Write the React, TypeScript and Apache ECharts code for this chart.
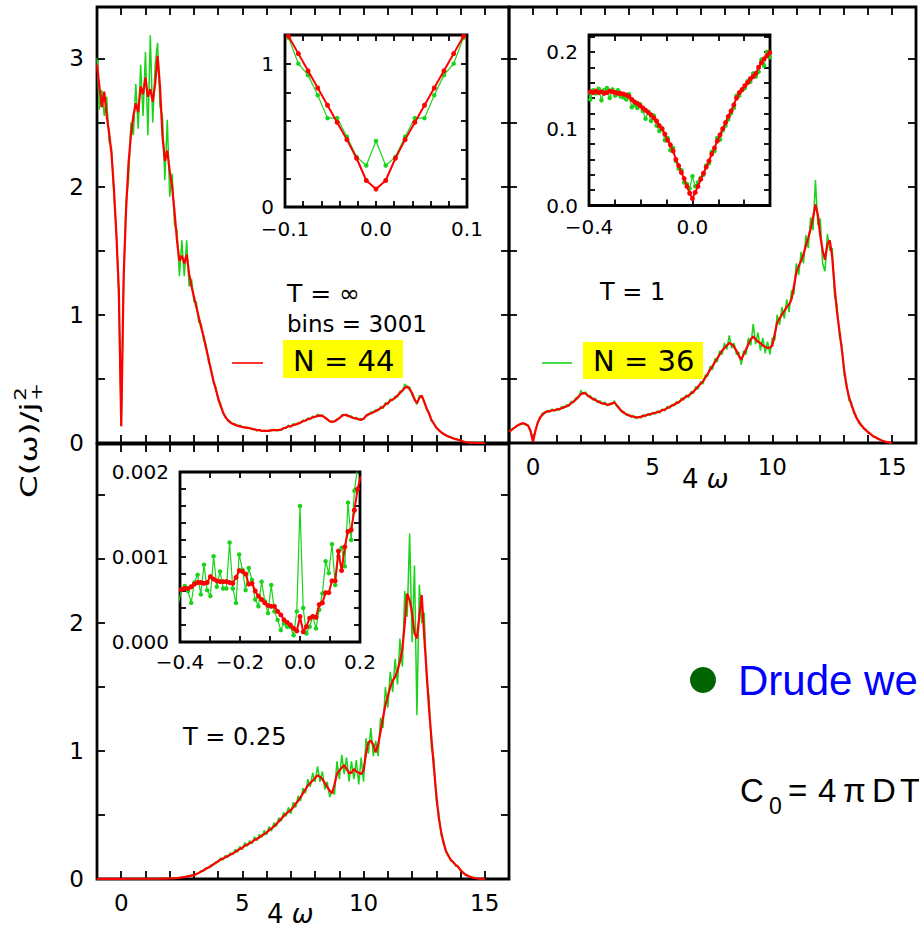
import React, { useEffect, useRef } from "react";
import * as echarts from "echarts";

// Main panels: 4ω sampled from -1 to 15 in steps of 0.1
const OMEGA_START = -1;
const OMEGA_STEP = 0.1;
// width of one of the 3001 histogram bins on the 4ω axis (used by the zoomed insets)
const BIN_WIDTH = 32 / 3000;

// T = ∞, N = 44 (red) and N = 36 (green)
const TINF_N44 = [
  2.95, 2.78, 2.62, 2.74, 2.55, 2.42, 2.25, 1.98, 1.62, 1.2,
  0.13, 1.3, 1.82, 2.18, 2.4, 2.55, 2.65, 2.58, 2.78, 2.72,
  2.85, 2.7, 2.76, 2.66, 2.8, 3.02, 2.78, 2.4, 2.2, 2.28,
  2.12, 2.0, 1.8, 1.58, 1.42, 1.46, 1.4, 1.47, 1.32, 1.22,
  1.14, 1.06, 0.98, 0.9, 0.83, 0.74, 0.66, 0.57, 0.49, 0.42,
  0.35, 0.29, 0.24, 0.2, 0.18, 0.16, 0.15, 0.14, 0.135, 0.13,
  0.125, 0.12, 0.12, 0.115, 0.11, 0.105, 0.1, 0.1, 0.095, 0.095,
  0.095, 0.095, 0.1, 0.1, 0.1, 0.1, 0.105, 0.115, 0.12, 0.13,
  0.13, 0.14, 0.145, 0.15, 0.16, 0.17, 0.175, 0.185, 0.19, 0.2,
  0.205, 0.21, 0.215, 0.21, 0.2, 0.185, 0.17, 0.165, 0.17, 0.18,
  0.195, 0.21, 0.22, 0.215, 0.21, 0.2, 0.195, 0.19, 0.185, 0.18,
  0.19, 0.21, 0.225, 0.23, 0.24, 0.25, 0.26, 0.27, 0.28, 0.3,
  0.31, 0.33, 0.34, 0.35, 0.37, 0.39, 0.41, 0.43, 0.44, 0.42,
  0.39, 0.34, 0.31, 0.35, 0.37, 0.32, 0.27, 0.23, 0.18, 0.15,
  0.12, 0.1, 0.085, 0.07, 0.06, 0.05, 0.045, 0.035, 0.03, 0.025,
  0.02, 0.012, 0.008, 0.005, 0.003, 0.002, 0.001, 0, 0, 0,
  0,
];
const TINF_N36 = [
  3.0, 2.6, 2.75, 2.55, 2.7, 2.35, 2.3, 1.92, 1.66, 1.12,
  0.13, 1.28, 1.88, 2.05, 2.5, 2.4, 2.8, 2.45, 2.95, 2.55,
  3.05, 2.4, 3.18, 2.5, 2.95, 3.12, 2.62, 2.55, 2.05, 2.52,
  1.92, 2.1, 1.7, 1.66, 1.3, 1.58, 1.3, 1.58, 1.22, 1.28,
  1.1, 1.1, 0.94, 0.93, 0.8, 0.77, 0.63, 0.59, 0.47, 0.44,
  0.33, 0.31, 0.23, 0.21, 0.17, 0.17, 0.145, 0.15, 0.13, 0.14,
  0.12, 0.125, 0.115, 0.12, 0.105, 0.11, 0.095, 0.105, 0.09, 0.1,
  0.09, 0.1, 0.095, 0.105, 0.095, 0.105, 0.1, 0.12, 0.115, 0.14,
  0.125, 0.15, 0.14, 0.16, 0.155, 0.18, 0.17, 0.195, 0.185, 0.21,
  0.2, 0.225, 0.21, 0.22, 0.195, 0.19, 0.165, 0.17, 0.165, 0.19,
  0.19, 0.22, 0.215, 0.225, 0.205, 0.21, 0.19, 0.2, 0.18, 0.19,
  0.185, 0.22, 0.215, 0.245, 0.235, 0.26, 0.25, 0.285, 0.27, 0.315,
  0.3, 0.345, 0.33, 0.365, 0.36, 0.405, 0.4, 0.46, 0.43, 0.44,
  0.37, 0.35, 0.3, 0.37, 0.36, 0.33, 0.26, 0.24, 0.17, 0.155,
  0.115, 0.105, 0.08, 0.075, 0.055, 0.055, 0.04, 0.04, 0.028, 0.03,
  0.018, 0.015, 0.007, 0.006, 0.002, 0.003, 0, 0, 0, 0,
  0,
];

// T = 1
const T1_N44 = [
  0.09, 0.1, 0.115, 0.13, 0.14, 0.15, 0.155, 0.146, 0.135, 0.095,
  0.01, 0.092, 0.16, 0.199, 0.22, 0.24, 0.245, 0.25, 0.255, 0.255,
  0.26, 0.265, 0.27, 0.28, 0.285, 0.295, 0.31, 0.325, 0.34, 0.36,
  0.38, 0.39, 0.385, 0.37, 0.355, 0.345, 0.335, 0.325, 0.315, 0.31,
  0.305, 0.3, 0.3, 0.31, 0.315, 0.295, 0.27, 0.25, 0.235, 0.225,
  0.215, 0.21, 0.205, 0.2, 0.2, 0.205, 0.21, 0.215, 0.22, 0.225,
  0.23, 0.235, 0.24, 0.245, 0.255, 0.26, 0.27, 0.28, 0.29, 0.3,
  0.31, 0.32, 0.335, 0.35, 0.36, 0.37, 0.385, 0.4, 0.42, 0.44,
  0.46, 0.48, 0.51, 0.54, 0.57, 0.6, 0.63, 0.66, 0.69, 0.72,
  0.74, 0.76, 0.78, 0.77, 0.75, 0.72, 0.68, 0.65, 0.69, 0.73,
  0.77, 0.81, 0.83, 0.81, 0.79, 0.78, 0.76, 0.75, 0.74, 0.745,
  0.76, 0.85, 0.94, 0.97, 1.0, 1.03, 1.06, 1.08, 1.12, 1.22,
  1.33, 1.38, 1.42, 1.47, 1.54, 1.6, 1.67, 1.76, 1.86, 1.78,
  1.62, 1.5, 1.43, 1.55, 1.58, 1.45, 1.22, 1.02, 0.88, 0.73,
  0.57, 0.44, 0.36, 0.3, 0.25, 0.2, 0.17, 0.14, 0.12, 0.1,
  0.085, 0.07, 0.055, 0.045, 0.035, 0.025, 0.018, 0.012, 0.007, 0.003,
  0,
];
const T1_N36 = [
  0.09, 0.105, 0.12, 0.125, 0.145, 0.145, 0.15, 0.14, 0.137, 0.09,
  0.038, 0.098, 0.155, 0.2, 0.235, 0.23, 0.255, 0.24, 0.265, 0.25,
  0.27, 0.255, 0.285, 0.27, 0.3, 0.285, 0.325, 0.315, 0.355, 0.35,
  0.41, 0.38, 0.4, 0.36, 0.37, 0.335, 0.35, 0.315, 0.33, 0.3,
  0.32, 0.29, 0.31, 0.3, 0.33, 0.285, 0.28, 0.24, 0.245, 0.215,
  0.225, 0.2, 0.215, 0.19, 0.205, 0.195, 0.22, 0.205, 0.23, 0.215,
  0.24, 0.225, 0.25, 0.235, 0.265, 0.25, 0.285, 0.27, 0.3, 0.29,
  0.325, 0.31, 0.35, 0.335, 0.375, 0.355, 0.4, 0.385, 0.44, 0.42,
  0.48, 0.46, 0.53, 0.52, 0.6, 0.57, 0.66, 0.63, 0.72, 0.69,
  0.78, 0.73, 0.84, 0.74, 0.78, 0.69, 0.71, 0.61, 0.72, 0.69,
  0.82, 0.76, 0.93, 0.77, 0.86, 0.72, 0.82, 0.7, 0.79, 0.69,
  0.82, 0.8, 1.0, 0.92, 1.06, 0.97, 1.12, 1.02, 1.19, 1.16,
  1.4, 1.31, 1.49, 1.4, 1.62, 1.52, 1.76, 1.66, 2.05, 1.7,
  1.75, 1.4, 1.34, 1.63, 1.5, 1.52, 1.14, 1.08, 0.83, 0.77,
  0.53, 0.47, 0.33, 0.32, 0.23, 0.215, 0.155, 0.15, 0.11, 0.11,
  0.078, 0.075, 0.05, 0.048, 0.03, 0.028, 0.015, 0.013, 0.005, 0.003,
  0,
];

// T = 0.25
const TQ_N44 = [
  0.0006, 0.0006, 0.0006, 0.0006, 0.0006, 0.0006, 0.0007, 0.0007, 0.0006, 0.0004,
  0.0003, 0.0008, 0.0018, 0.002, 0.002, 0.002, 0.002, 0.002, 0.002, 0.002,
  0.002, 0.002, 0.002, 0.002, 0.002, 0.002, 0.003, 0.003, 0.003, 0.004,
  0.004, 0.005, 0.006, 0.008, 0.01, 0.012, 0.015, 0.018, 0.022, 0.026,
  0.03, 0.038, 0.048, 0.058, 0.068, 0.08, 0.09, 0.1, 0.115, 0.125,
  0.14, 0.15, 0.16, 0.17, 0.18, 0.19, 0.2, 0.21, 0.225, 0.235,
  0.245, 0.26, 0.27, 0.28, 0.29, 0.305, 0.315, 0.325, 0.34, 0.35,
  0.365, 0.38, 0.395, 0.41, 0.43, 0.45, 0.47, 0.49, 0.51, 0.525,
  0.54, 0.56, 0.59, 0.61, 0.64, 0.67, 0.7, 0.73, 0.75, 0.77,
  0.79, 0.81, 0.8, 0.78, 0.75, 0.72, 0.69, 0.67, 0.74, 0.82,
  0.85, 0.87, 0.89, 0.86, 0.83, 0.83, 0.86, 0.84, 0.83, 0.82,
  0.85, 0.98, 1.07, 1.08, 1.05, 0.99, 1.05, 1.15, 1.26, 1.36,
  1.43, 1.5, 1.55, 1.58, 1.63, 1.7, 1.8, 2.0, 2.23, 2.18,
  2.08, 1.92, 1.88, 2.05, 2.22, 1.9, 1.62, 1.33, 1.1, 0.87,
  0.66, 0.48, 0.37, 0.28, 0.22, 0.18, 0.15, 0.13, 0.11, 0.095,
  0.07, 0.05, 0.035, 0.025, 0.018, 0.012, 0.008, 0.004, 0.002, 0.001,
  0,
];
const TQ_N36 = [
  0.0005, 0.0007, 0.0004, 0.0009, 0.0005, 0.0007, 0.0011, 0.0006, 0.001, 0.0003,
  0.0016, 0.0002, 0.002, 0.002, 0.003, 0.002, 0.003, 0.002, 0.003, 0.002,
  0.003, 0.002, 0.003, 0.002, 0.003, 0.002, 0.004, 0.003, 0.004, 0.004,
  0.005, 0.006, 0.005, 0.01, 0.009, 0.014, 0.014, 0.021, 0.02, 0.03,
  0.028, 0.043, 0.045, 0.064, 0.064, 0.088, 0.085, 0.11, 0.108, 0.135,
  0.13, 0.165, 0.15, 0.185, 0.17, 0.205, 0.19, 0.23, 0.21, 0.255,
  0.23, 0.285, 0.255, 0.3, 0.275, 0.33, 0.3, 0.35, 0.325, 0.38,
  0.345, 0.41, 0.375, 0.44, 0.41, 0.48, 0.45, 0.52, 0.49, 0.56,
  0.51, 0.6, 0.56, 0.65, 0.61, 0.71, 0.67, 0.78, 0.72, 0.83,
  0.76, 0.88, 0.76, 0.84, 0.7, 0.76, 0.64, 0.69, 0.66, 0.92,
  0.78, 0.97, 0.82, 0.95, 0.76, 0.92, 0.78, 0.93, 0.74, 0.95,
  0.76, 1.1, 0.98, 1.18, 0.96, 1.08, 0.96, 1.26, 1.18, 1.5,
  1.34, 1.62, 1.46, 1.72, 1.52, 1.88, 1.66, 2.25, 2.05, 2.7,
  1.85, 2.45, 1.28, 2.3, 2.0, 2.08, 1.55, 1.42, 1.02, 0.94,
  0.61, 0.52, 0.34, 0.3, 0.205, 0.19, 0.14, 0.135, 0.1, 0.1,
  0.065, 0.055, 0.03, 0.028, 0.015, 0.013, 0.006, 0.005, 0.001, 0.001,
  0,
];

// Insets: one value per histogram bin, starting at bin index *_FIRST_BIN
const ZOOM_INF_FIRST_BIN = -10;
const ZOOM_INF_N44 = [1.31, 1.19, 1.07, 0.95, 0.83, 0.71, 0.59, 0.47, 0.34, 0.185, 0.125, 0.185, 0.34, 0.47, 0.59, 0.71, 0.83, 0.95, 1.07, 1.19, 1.31];
const ZOOM_INF_N36 = [1.3, 1.18, 1.0, 0.92, 0.78, 0.62, 0.62, 0.49, 0.35, 0.29, 0.46, 0.29, 0.35, 0.49, 0.62, 0.62, 0.78, 0.92, 1.0, 1.18, 1.3];

const ZOOM_T1_FIRST_BIN = -38;
const ZOOM_T1_N44 = [
  0.148,
  0.148, 0.147, 0.149, 0.147, 0.148, 0.146, 0.147, 0.149, 0.148, 0.147,
  0.146, 0.146, 0.145, 0.144, 0.142, 0.138, 0.135, 0.133, 0.13, 0.127,
  0.124, 0.121, 0.118, 0.114, 0.11, 0.104, 0.1, 0.093, 0.085, 0.079,
  0.071, 0.06, 0.052, 0.043, 0.035, 0.025, 0.016, 0.009, 0.017, 0.025,
  0.034, 0.042, 0.05, 0.058, 0.067, 0.075, 0.084, 0.092, 0.1, 0.108,
  0.116, 0.123, 0.131, 0.14, 0.147, 0.151, 0.156, 0.16, 0.165, 0.168,
  0.172, 0.18, 0.186, 0.191, 0.195, 0.199, 0.203,
];
const ZOOM_T1_N36 = [
  0.15,
  0.138, 0.15, 0.146, 0.152, 0.137, 0.15, 0.153, 0.14, 0.151, 0.143,
  0.15, 0.142, 0.141, 0.138, 0.145, 0.128, 0.131, 0.127, 0.132, 0.123,
  0.113, 0.122, 0.11, 0.117, 0.104, 0.097, 0.1, 0.085, 0.088, 0.072,
  0.075, 0.058, 0.048, 0.046, 0.03, 0.028, 0.022, 0.038, 0.025, 0.03,
  0.036, 0.04, 0.052, 0.055, 0.07, 0.071, 0.088, 0.086, 0.098, 0.104,
  0.112, 0.12, 0.127, 0.143, 0.143, 0.15, 0.153, 0.162, 0.161, 0.172,
  0.168, 0.174, 0.19, 0.182, 0.2, 0.193, 0.205,
];

const ZOOM_TQ_FIRST_BIN = -38;
const ZOOM_TQ_N44 = [
  0.0006,
  0.00062, 0.00063, 0.00063, 0.00065, 0.00068, 0.0007, 0.0007, 0.00069, 0.0007, 0.00077,
  0.00074, 0.00072, 0.00071, 0.00071, 0.00071, 0.0007, 0.00069, 0.00076, 0.00084, 0.00083,
  0.0008, 0.00068, 0.00069, 0.0006, 0.00054, 0.0005, 0.00046, 0.00043, 0.00042, 0.00042,
  0.00036, 0.00032, 0.00026, 0.00023, 0.0002, 0.00016, 0.00013, 0.0003, 0.00012, 0.00018,
  0.00028, 0.0003, 0.00029, 0.00044, 0.00046, 0.00058, 0.00058, 0.00072, 0.00072, 0.00107,
  0.00084, 0.00112, 0.0013, 0.00132, 0.00155, 0.0018, 0.00195,
];
const ZOOM_TQ_N36 = [
  0.00045,
  0.00062, 0.00066, 0.0006, 0.00046, 0.0007, 0.00079, 0.00056, 0.00091, 0.00061, 0.00054,
  0.00101, 0.00065, 0.00083, 0.00063, 0.00063, 0.00117, 0.00063, 0.00046, 0.00103, 0.00085,
  0.00061, 0.00087, 0.00073, 0.0005, 0.00042, 0.00071, 0.00048, 0.00034, 0.00067, 0.00036,
  0.00026, 0.00014, 0.00022, 0.00018, 0.00018, 0.00008, 0.00036, 0.0016, 0.0004, 0.0001,
  0.00018, 0.0003, 0.00016, 0.00038, 0.00057, 0.00095, 0.00081, 0.00115, 0.00067, 0.00101,
  0.00111, 0.00089, 0.00164, 0.0012, 0.00178, 0.00205, 0.0022,
];

// Labelled tick positions
const MAIN_X_LABELS = [0, 5, 10, 15];
const TOP_Y_LABELS = [0, 1, 2, 3];
const BOTTOM_Y_LABELS = [0, 1, 2];
const ZOOM_INF_X_LABELS = [-0.1, 0, 0.1];
const ZOOM_INF_Y_LABELS = [0, 1];
const ZOOM_T1_X_LABELS = [-0.4, 0];
const ZOOM_T1_Y_LABELS = [0, 0.1, 0.2];
const ZOOM_TQ_X_LABELS = [-0.4, -0.2, 0, 0.2];
const ZOOM_TQ_Y_LABELS = [0, 0.001, 0.002];

const RED = "#ff0000";
const GREEN = "#19d419";
const FONT = "DejaVu Sans";

function onGrid(start: number, step: number, values: number[]) {
  return values.map((v, i) => [start + i * step, v]);
}

function signed(v: number, digits: number) {
  const s = Math.abs(v).toFixed(digits);
  return v < -1e-12 ? "\u2212" + s : s;
}

function labelsAt(ticks: number[], digits: number, tol: number) {
  return (v: number) => {
    const t = ticks.find((t) => Math.abs(t - v) < tol);
    return t === undefined ? "" : signed(t, digits);
  };
}

type AxisOpts = {
  min: number;
  max: number;
  interval: number;
  labels?: (v: number) => string;
  fontSize?: number;
  margin?: number;
  tickLen: number;
};

// a labelled axis plus a mirrored, unlabelled one so ticks appear on all four sides
function axisPair(dim: "x" | "y", gridIndex: number, o: AxisOpts) {
  const base = {
    type: "value",
    gridIndex,
    min: o.min,
    max: o.max,
    interval: o.interval,
    splitLine: { show: false },
    axisLine: { show: false, onZero: false },
    axisTick: { show: true, inside: true, length: o.tickLen, lineStyle: { color: "#000", width: 1.8 } },
  };
  const main = {
    ...base,
    position: dim === "x" ? "bottom" : "left",
    axisLabel: o.labels
      ? {
          show: true,
          formatter: o.labels,
          color: "#000",
          fontFamily: FONT,
          fontSize: o.fontSize,
          margin: o.margin,
          showMinLabel: true,
          showMaxLabel: true,
        }
      : { show: false },
  };
  const mirror = { ...base, position: dim === "x" ? "top" : "right", axisLabel: { show: false } };
  return [main, mirror];
}

function mainSeries(g: number, red: number[], green: number[]) {
  return [
    {
      type: "line",
      xAxisIndex: 2 * g,
      yAxisIndex: 2 * g,
      data: onGrid(OMEGA_START, OMEGA_STEP, green),
      symbol: "none",
      showSymbol: false,
      lineStyle: { color: GREEN, width: 1.5 },
      itemStyle: { color: GREEN },
      z: 2,
      silent: true,
    },
    {
      type: "line",
      xAxisIndex: 2 * g,
      yAxisIndex: 2 * g,
      data: onGrid(OMEGA_START, OMEGA_STEP, red),
      symbol: "none",
      showSymbol: false,
      lineStyle: { color: RED, width: 2.2 },
      itemStyle: { color: RED },
      z: 3,
      silent: true,
    },
  ];
}

function zoomSeries(g: number, firstBin: number, red: number[], green: number[]) {
  const start = firstBin * BIN_WIDTH;
  return [
    {
      type: "line",
      xAxisIndex: 2 * g,
      yAxisIndex: 2 * g,
      data: onGrid(start, BIN_WIDTH, green),
      symbol: "circle",
      symbolSize: 4.5,
      showSymbol: true,
      showAllSymbol: true,
      lineStyle: { color: GREEN, width: 1.2 },
      itemStyle: { color: GREEN },
      z: 4,
      silent: true,
    },
    {
      type: "line",
      xAxisIndex: 2 * g,
      yAxisIndex: 2 * g,
      data: onGrid(start, BIN_WIDTH, red),
      symbol: "circle",
      symbolSize: 5,
      showSymbol: true,
      showAllSymbol: true,
      lineStyle: { color: RED, width: 2 },
      itemStyle: { color: RED },
      z: 5,
      silent: true,
    },
  ];
}

function label(text: string, x: number, y: number, size: number, extra: any = {}) {
  return {
    type: "text",
    x,
    y,
    silent: true,
    style: {
      text,
      fontSize: size,
      fontFamily: FONT,
      fill: "#000",
      align: "left",
      verticalAlign: "middle",
      textAlign: "left",
      textVerticalAlign: "middle",
      ...extra,
    },
  };
}

function omegaTitle(x: number, y: number) {
  return label("4 {w|ω}", x, y, 26, {
    rich: { w: { fontSize: 26, fontFamily: FONT, fontStyle: "italic", fill: "#000" } },
  });
}

function measure(text: string, font: string) {
  const ctx = document.createElement("canvas").getContext("2d");
  if (!ctx) return text.length * 10;
  ctx.font = font;
  return ctx.measureText(text).width;
}

export default function App() {
  const ref = useRef<HTMLDivElement>(null);

  useEffect(() => {
    if (!ref.current) return;
    const chart = echarts.init(ref.current, undefined, { renderer: "svg" });

    const frame = { show: true, borderColor: "#000", borderWidth: 2.8, backgroundColor: "transparent" };
    const grids = [
      { left: 97, top: 7, width: 412, height: 436, ...frame },
      { left: 509, top: 7, width: 413, height: 436, ...frame },
      { left: 97, top: 444, width: 412, height: 435, ...frame },
      { left: 285, top: 35, width: 182, height: 172, ...frame },
      { left: 589, top: 35, width: 181, height: 170.5, ...frame },
      { left: 180, top: 472, width: 180, height: 170, ...frame },
    ];

    const mainX = (g: number, withLabels: boolean) =>
      axisPair("x", g, {
        min: -1,
        max: 16,
        interval: 1,
        tickLen: 8,
        labels: withLabels ? labelsAt(MAIN_X_LABELS, 0, 1e-6) : undefined,
        fontSize: 23,
        margin: 12,
      });
    const mainY = (g: number, ticks: number[] | null) =>
      axisPair("y", g, {
        min: 0,
        max: 3.4,
        interval: 0.5,
        tickLen: 8,
        labels: ticks ? labelsAt(ticks, 0, 1e-6) : undefined,
        fontSize: 23,
        margin: 13,
      });

    const xAxis = [
      ...mainX(0, false),
      ...mainX(1, true),
      ...mainX(2, true),
      ...axisPair("x", 3, { min: -0.1, max: 0.1, interval: 0.02, tickLen: 6, labels: labelsAt(ZOOM_INF_X_LABELS, 1, 1e-6), fontSize: 20, margin: 12 }),
      ...axisPair("x", 4, { min: -0.4, max: 0.3, interval: 0.1, tickLen: 6, labels: labelsAt(ZOOM_T1_X_LABELS, 1, 1e-6), fontSize: 20, margin: 11 }),
      ...axisPair("x", 5, { min: -0.4, max: 0.2, interval: 0.1, tickLen: 6, labels: labelsAt(ZOOM_TQ_X_LABELS, 1, 1e-6), fontSize: 20, margin: 10 }),
    ];
    const yAxis = [
      ...mainY(0, TOP_Y_LABELS),
      ...mainY(1, null),
      ...mainY(2, BOTTOM_Y_LABELS),
      ...axisPair("y", 3, { min: 0, max: 1.2, interval: 0.2, tickLen: 6, labels: labelsAt(ZOOM_INF_Y_LABELS, 0, 1e-6), fontSize: 20, margin: 11 }),
      ...axisPair("y", 4, { min: 0, max: 0.222, interval: 0.02, tickLen: 6, labels: labelsAt(ZOOM_T1_Y_LABELS, 1, 1e-6), fontSize: 20, margin: 11 }),
      ...axisPair("y", 5, { min: 0, max: 0.002, interval: 0.0002, tickLen: 6, labels: labelsAt(ZOOM_TQ_Y_LABELS, 3, 1e-9), fontSize: 20, margin: 11 }),
    ];

    const series = [
      ...mainSeries(0, TINF_N44, TINF_N36),
      ...mainSeries(1, T1_N44, T1_N36),
      ...mainSeries(2, TQ_N44, TQ_N36),
      ...zoomSeries(3, ZOOM_INF_FIRST_BIN, ZOOM_INF_N44, ZOOM_INF_N36),
      ...zoomSeries(4, ZOOM_T1_FIRST_BIN, ZOOM_T1_N44, ZOOM_T1_N36),
      ...zoomSeries(5, ZOOM_TQ_FIRST_BIN, ZOOM_TQ_N44, ZOOM_TQ_N36),
    ];

    // y-axis title C(ω)/j₊², drawn rotated and stretched along its reading direction
    const titleSize = 23;
    const titleW = measure("C(ω)/j", `${titleSize}px "${FONT}"`);
    const yTitle = {
      type: "group",
      x: 29,
      y: 498,
      rotation: Math.PI / 2,
      scaleX: 1.42,
      silent: true,
      children: [
        label("C(ω)/j", 0, 0, titleSize),
        label("2", titleW + 1, -8, 15),
        label("+", titleW + 1, 8, 15),
      ],
    };

    const C0 = (t: string, x: number, y: number, size: number) =>
      label(t, x, y, size, { fontFamily: "Liberation Sans" });

    const graphic = [
      yTitle,
      label("T = ∞", 287, 293, 25),
      label("bins = 3001", 287, 324, 23),
      { type: "line", silent: true, shape: { x1: 232, y1: 363, x2: 263, y2: 363 }, style: { stroke: RED, lineWidth: 1.6 } },
      { type: "rect", silent: true, shape: { x: 283, y: 340, width: 120, height: 38 }, style: { fill: "#ffff00" } },
      label("N = 44", 293, 361, 29),
      label("T = 1", 600, 292, 24),
      { type: "line", silent: true, shape: { x1: 542, y1: 363, x2: 572, y2: 363 }, style: { stroke: GREEN, lineWidth: 1.6 } },
      { type: "rect", silent: true, shape: { x: 583, y: 342, width: 120, height: 37 }, style: { fill: "#ffff00" } },
      label("N = 36", 593, 361, 29),
      label("T = 0.25", 183, 737, 24),
      omegaTitle(267, 914),
      omegaTitle(682, 479),
      { type: "circle", silent: true, shape: { cx: 703, cy: 680, r: 13 }, style: { fill: "#006400" } },
      label("Drude weight", 738, 680, 42, { fontFamily: "Liberation Sans", fill: "#0000ff" }),
      C0("C", 740, 790, 33),
      C0("0", 769, 806, 23),
      C0("=", 788, 790, 33),
      C0("4", 818, 790, 33),
      C0("π", 843, 790, 33),
      C0("D", 872, 790, 33),
      C0("T", 900, 790, 33),
    ];

    chart.setOption({
      animation: false,
      backgroundColor: "#ffffff",
      textStyle: { fontFamily: FONT, color: "#000" },
      grid: grids,
      xAxis,
      yAxis,
      series,
      graphic,
    });

    return () => chart.dispose();
  }, []);

  return (
    <div
      ref={ref}
      style={{ position: "absolute", left: 0, top: 0, width: 919, height: 928, background: "#fff" }}
    />
  );
}
